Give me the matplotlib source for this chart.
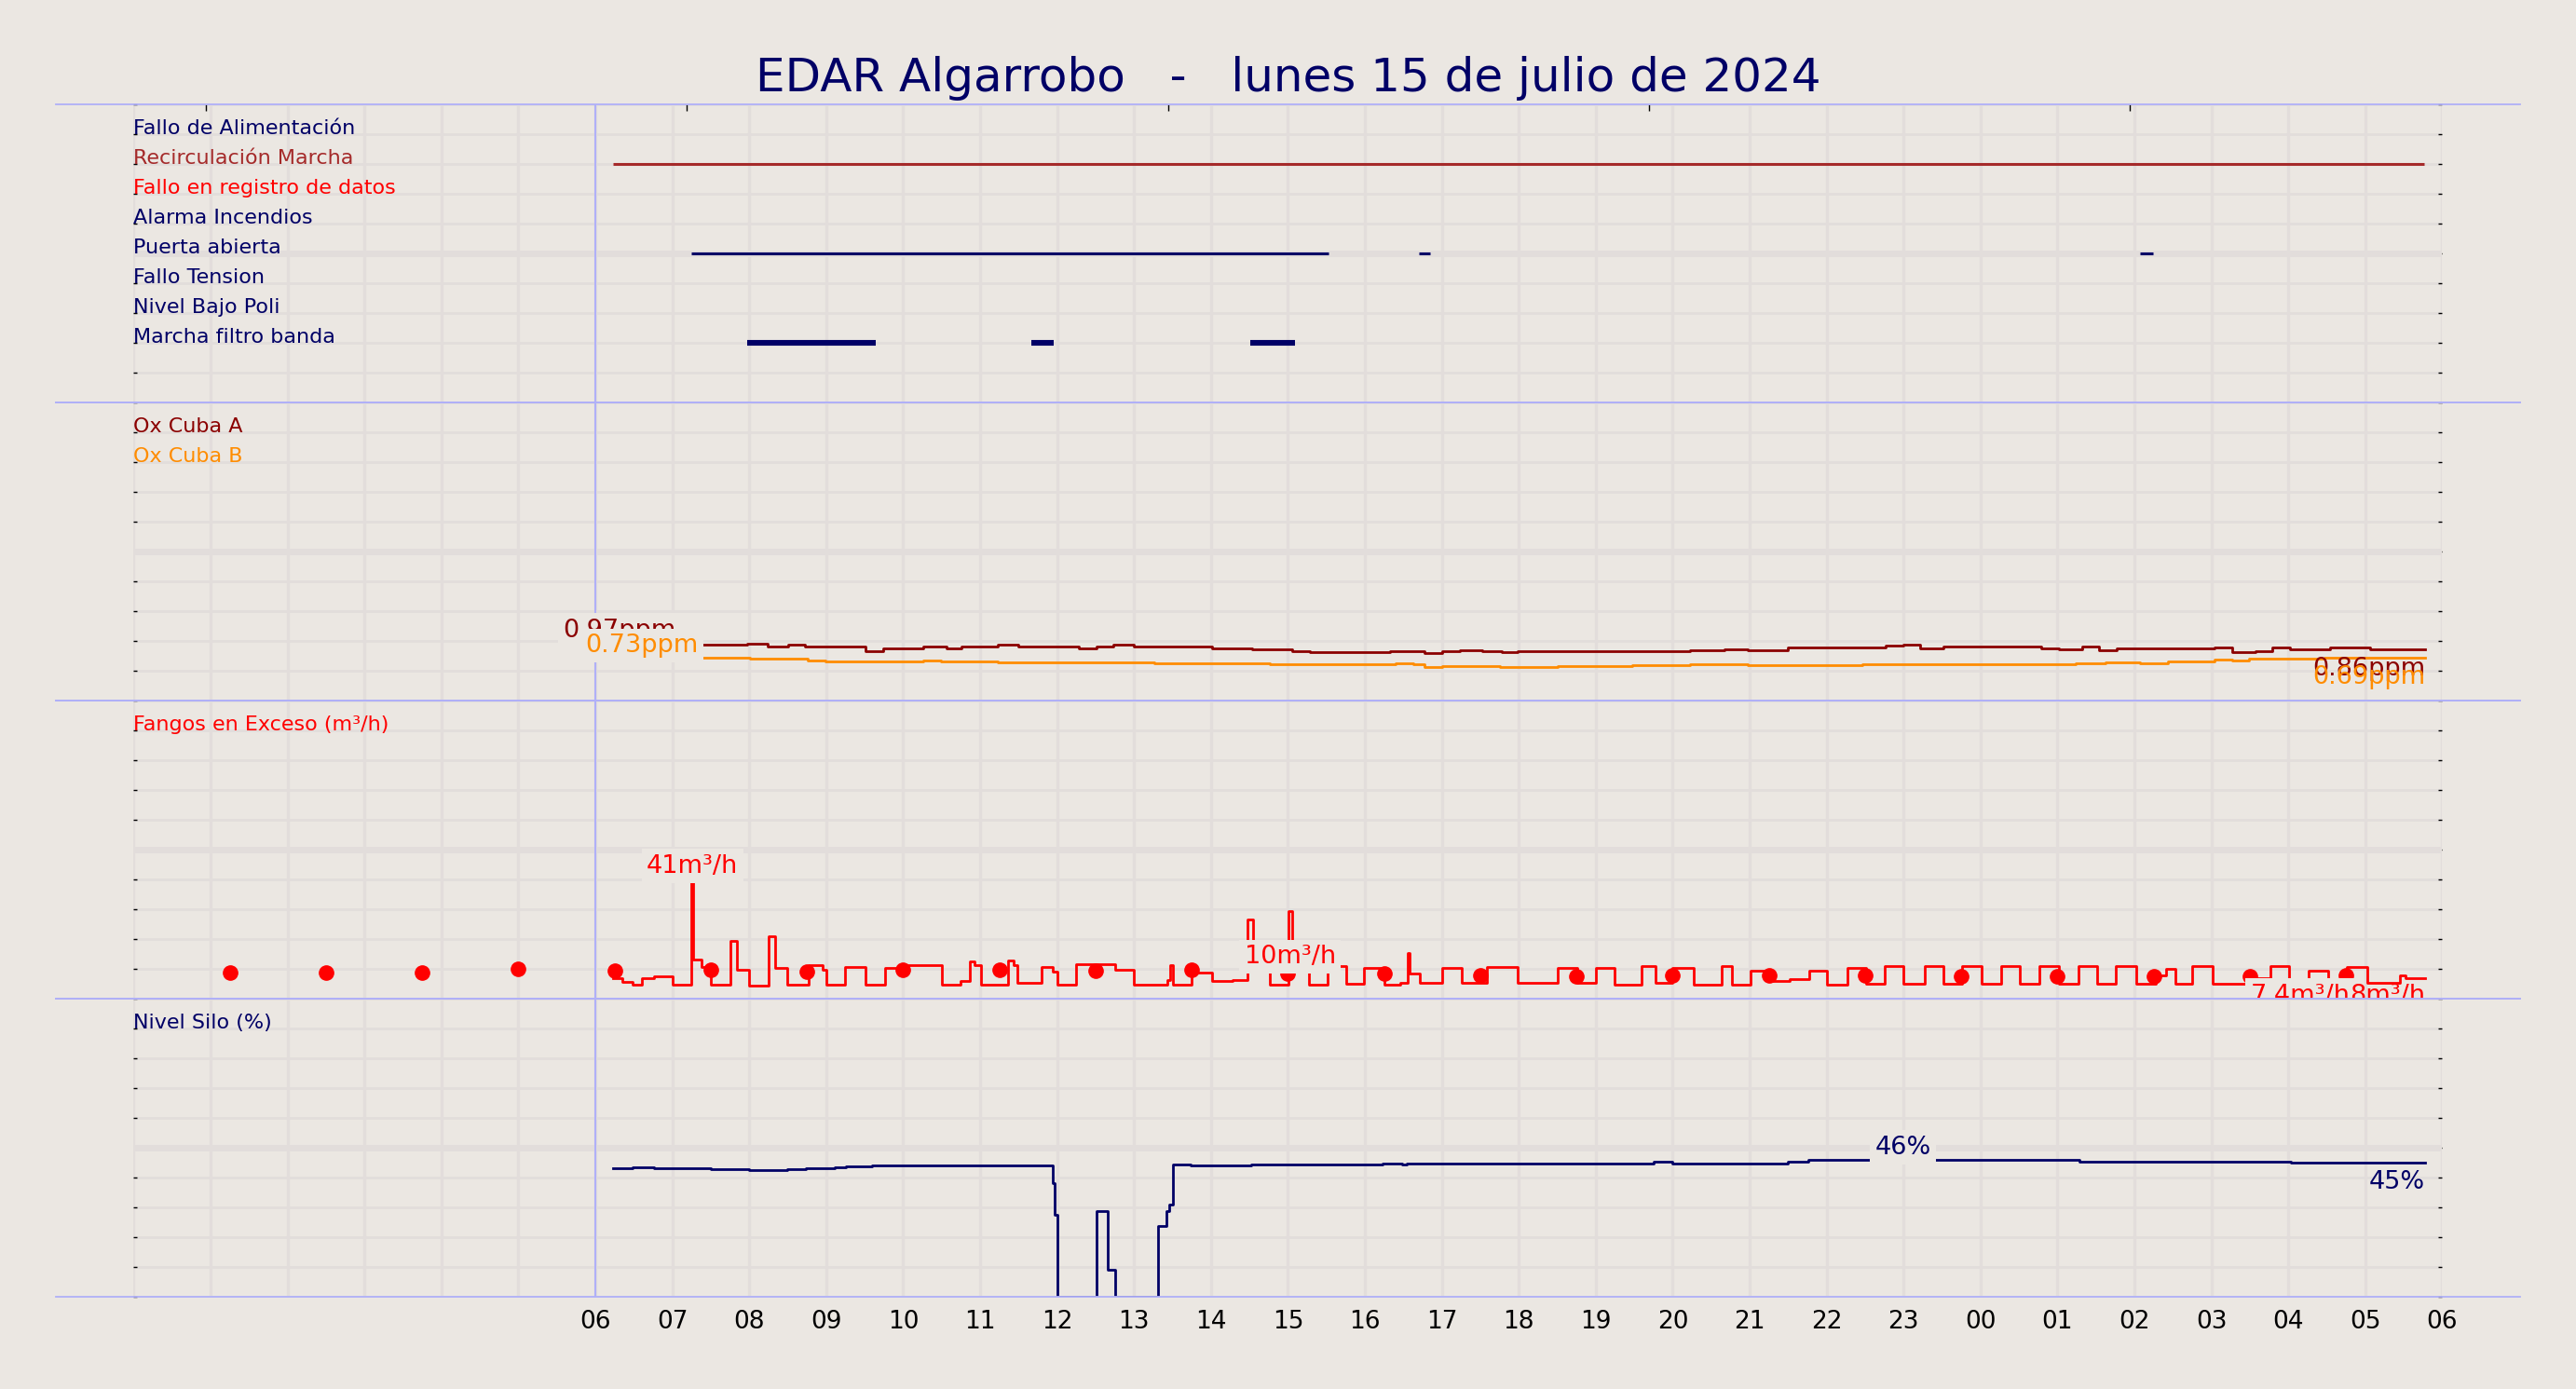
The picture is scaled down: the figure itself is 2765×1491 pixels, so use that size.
import matplotlib
matplotlib.use('Agg')
import matplotlib.pyplot as plt
from matplotlib.lines import Line2D
import numpy as np

W, H, DPI = 2765, 1491, 100
BG = '#ebe7e2'
GRID = '#e2dddb'
SEP = '#b0b0f8'
NAVY = '#000066'

title = 'EDAR Algarrobo   -   lunes 15 de julio de 2024'

# ---------------- x axis (hours since 00:00 of the day) ----------------
hour_ticks = list(range(6, 31))
hour_labels = ['06', '07', '08', '09', '10', '11', '12', '13', '14', '15', '16', '17',
               '18', '19', '20', '21', '22', '23', '00', '01', '02', '03', '04', '05', '06']
top_marks = [0.94, 7.19, 13.44, 19.69, 25.94]
day_start = 6
t_end = 29.78

# ---------------- panel 1 : digital signals ----------------
signal_names = ['Fallo de Alimentación', 'Recirculación Marcha', 'Fallo en registro de datos',
                'Alarma Incendios', 'Puerta abierta', 'Fallo Tension', 'Nivel Bajo Poli',
                'Marcha filtro banda']
signal_colors = [NAVY, '#a52a2a', 'red', NAVY, NAVY, NAVY, NAVY, NAVY]
signal_starts = [[], [6.23], [], [], [7.25, 16.70, 26.07], [], [], [7.97, 11.67, 14.51]]
signal_ends = [[], [29.76], [], [], [15.53, 16.85, 26.24], [], [], [9.64, 11.96, 15.09]]
signal_lw = [2.2, 2.2, 2.2, 2.2, 2.2, 2.2, 2.2, 4.4]

# ---------------- panel 2 : oxygen ----------------
oxA_t = [7.37, 7.76, 7.97, 8.24, 8.51, 8.73, 9.21, 9.51, 9.74, 10.01, 10.26, 10.56, 10.76,
         11.01, 11.23, 11.50, 11.80, 12.13, 12.28, 12.51, 12.73, 13.00, 14.01, 14.53, 15.06,
         15.28, 15.50, 15.80, 16.03, 16.33, 16.78, 17.00, 17.23, 17.53, 17.78, 17.98, 19.78,
         20.23, 20.67, 20.97, 21.50, 22.77, 23.00, 23.22, 23.52, 24.19, 24.57, 24.79, 25.02,
         25.32, 25.54, 25.77, 27.04, 27.27, 27.57, 27.79, 28.02, 28.54, 28.77, 29.06]
oxA_v = [0.93, 0.94, 0.95, 0.90, 0.93, 0.91, 0.90, 0.83, 0.87, 0.88, 0.90, 0.87, 0.90,
         0.90, 0.93, 0.90, 0.91, 0.90, 0.87, 0.90, 0.93, 0.91, 0.875, 0.855, 0.83,
         0.82, 0.81, 0.82, 0.81, 0.825, 0.79, 0.835, 0.85, 0.83, 0.815, 0.835, 0.835,
         0.845, 0.855, 0.85, 0.895, 0.925, 0.945, 0.88, 0.91, 0.90, 0.91, 0.875, 0.865,
         0.90, 0.845, 0.875, 0.89, 0.82, 0.835, 0.895, 0.865, 0.895, 0.885, 0.865]
oxB_t = [7.37, 8.01, 8.24, 8.76, 8.99, 9.59, 10.26, 10.49, 11.23, 13.26, 14.76, 16.40,
         16.63, 16.78, 17.00, 17.75, 18.50, 18.73, 19.48, 20.23, 20.97, 22.47, 24.72,
         25.24, 25.62, 26.07, 26.44, 27.04, 27.27, 27.49, 27.87, 28.47]
oxB_v = [0.72, 0.70, 0.71, 0.67, 0.66, 0.655, 0.67, 0.65, 0.645, 0.62, 0.605, 0.63,
         0.605, 0.555, 0.58, 0.57, 0.585, 0.58, 0.59, 0.605, 0.59, 0.605, 0.615,
         0.625, 0.645, 0.63, 0.655, 0.68, 0.67, 0.70, 0.71, 0.72]
oxA_first, oxA_last = '0.97ppm', '0.86ppm'
oxB_first, oxB_last = '0.73ppm', '0.69ppm'

# ---------------- panel 3 : excess sludge ----------------
fangos_t = [6.23, 6.35, 6.49, 6.61, 6.76, 7.00, 7.25, 7.27, 7.38, 7.50, 7.75, 7.84, 8.00,
            8.25, 8.34, 8.49, 8.77, 8.96, 9.00, 9.25, 9.51, 9.76, 10.00, 10.50, 10.75,
            10.87, 10.93, 11.01, 11.36, 11.43, 11.49, 11.80, 11.95, 12.01, 12.25, 12.75,
            13.00, 13.43, 13.47, 13.50, 13.75, 14.02, 14.28, 14.48, 14.55, 14.76, 15.01,
            15.06, 15.27, 15.51, 15.62, 15.76, 15.99, 16.26, 16.46, 16.56, 16.58, 16.72,
            17.01, 17.26, 17.58, 17.99, 18.50, 18.76, 19.00, 19.25, 19.59, 19.78, 20.00,
            20.27, 20.64, 20.77, 21.01, 21.26, 21.52, 21.78, 22.00, 22.27, 22.51, 22.75,
            23.00, 23.27, 23.52, 23.76, 24.02, 24.27, 24.51, 24.77, 25.02, 25.27, 25.52,
            25.76, 26.03, 26.28, 26.41, 26.53, 26.75, 27.02, 27.52, 27.77, 28.01, 28.26,
            28.52, 28.76, 29.03, 29.45, 29.52]
fangos_v = [7.0, 5.7, 4.6, 6.9, 7.6, 4.6, 40.4, 13.0, 10.5, 4.6, 19.5, 9.8, 4.3,
            21.0, 10.3, 4.6, 11.1, 9.8, 4.6, 10.6, 4.6, 10.3, 11.1, 4.6, 5.9,
            12.4, 11.1, 4.6, 12.7, 11.1, 5.3, 10.6, 9.0, 4.6, 11.6, 9.8,
            4.6, 6.4, 11.1, 4.6, 8.7, 5.8, 6.2, 26.7, 9.0, 4.8, 29.3,
            10.0, 4.8, 9.5, 11.0, 5.0, 10.2, 4.8, 5.2, 15.2, 8.4, 5.2,
            10.3, 5.2, 10.7, 5.2, 10.3, 5.2, 10.3, 4.6, 11.0, 5.3, 10.3,
            4.8, 11.0, 4.8, 9.4, 5.8, 6.6, 9.3, 4.6, 10.3, 5.1, 10.9,
            5.1, 10.9, 5.1, 10.9, 5.1, 10.9, 5.1, 10.9, 5.1, 10.9, 5.1,
            10.9, 5.1, 7.9, 10.0, 5.1, 10.9, 5.1, 7.0, 10.9, 6.5, 9.5,
            5.1, 10.7, 5.3, 7.7, 6.8]
dots_t = [1.25, 2.5, 3.75, 5.0, 6.25, 7.5, 8.75, 10.0, 11.25, 12.5, 13.75, 15.0, 16.25,
          17.5, 18.75, 20.0, 21.25, 22.5, 23.75, 25.0, 26.25, 27.5, 28.75]
dots_v = [8.8, 8.8, 8.9, 9.9, 9.5, 9.7, 9.2, 9.7, 9.7, 9.5, 9.7, 8.5, 8.4,
          7.9, 7.4, 7.9, 7.9, 7.9, 7.5, 7.6, 7.6, 7.5, 7.8]
fangos_max_label = '41m³/h'
fangos_mid_label, fangos_mid_t, fangos_mid_v = '10m³/h', 15.03, 10
fangos_last_label = '8m³/h'
fangos_avg_label = '7.4m³/h'

# ---------------- panel 4 : silo level ----------------
silo_t = [6.23, 6.49, 6.76, 7.50, 8.00, 8.49, 8.74, 9.11, 9.26, 9.60, 11.95, 11.97, 12.01,
          12.51, 12.66, 12.75, 13.31, 13.42, 13.46, 13.51, 13.74, 14.52, 16.23, 16.48, 16.54,
          19.75, 20.00, 21.50, 21.76, 22.54, 22.59, 23.40, 25.28, 28.03]
silo_v = [43.2, 43.5, 43.2, 42.8, 42.5, 42.8, 43.1, 43.4, 43.75, 44.1, 38.0, 27.6, 0.0,
          28.75, 9.0, 0.0, 23.75, 28.75, 30.8, 44.4, 44.1, 44.4, 44.8, 44.3, 44.7,
          45.4, 44.6, 45.2, 45.8, 45.9, 46.0, 45.8, 45.3, 45.0]
silo_max_label, silo_last_label = '46%', '45%'

panel_labels = [None, [('Ox Cuba A', '#8b0000'), ('Ox Cuba B', '#ff8c00')],
                [('Fangos en Exceso (m³/h)', 'red')], [('Nivel Silo (%)', NAVY)]]
panel_ymax = [10, 5, 100, 100]

# ---------------- figure ----------------
fig = plt.figure(figsize=(W / DPI, H / DPI), dpi=DPI, facecolor=BG)
left, right = 143.4 / W, 2621.4 / W
panel_top_px = [112, 432, 752, 1072]
panel_h_px = 320
axes = []
for top in panel_top_px:
    ax = fig.add_axes([left, 1 - (top + panel_h_px) / H, right - left, panel_h_px / H])
    axes.append(ax)

LBL_FS = 16
VAL_FS = 19.5
BOX = dict(boxstyle='square,pad=0.2', facecolor=BG, edgecolor='none')

for ax, ymax in zip(axes, panel_ymax):
    ax.set_facecolor(BG)
    ax.set_xlim(0, 30)
    ax.set_ylim(0, ymax)
    ax.set_yticks(np.linspace(0, ymax, 11))
    ax.set_xticks(hour_ticks)
    ax.set_xticks(np.arange(0, 31), minor=True)
    ax.set_axisbelow(True)
    ax.grid(which='both', axis='x', color=GRID, lw=2.4)
    ax.grid(which='major', axis='y', color=GRID, lw=2.0)
    ax.axhline(ymax / 2, color=GRID, lw=5, zorder=0.6)
    ax.tick_params(axis='y', which='both', direction='in', left=True, right=True,
                   labelleft=False, length=3, width=1, color='black')
    ax.tick_params(axis='x', which='both', length=0, labelbottom=False)
    for s in ax.spines.values():
        s.set_visible(False)
    ax.axvline(day_start, color=SEP, lw=1.5, zorder=1)

# separators
for ax in axes:
    pos = ax.get_position()
    for yy in (pos.y0, pos.y1):
        fig.add_artist(Line2D([60 / W, 2705 / W], [yy, yy], color=SEP, lw=1.3, zorder=3))

# title
fig.text(0.5, 1 - 98 / H, title, ha='center', va='baseline', fontsize=36, color=NAVY)

# ----- panel 1
ax = axes[0]
for i, name in enumerate(signal_names):
    y = 9 - i
    ax.text(0, y, name, ha='left', va='baseline', fontsize=LBL_FS, color=signal_colors[i], zorder=4)
    if signal_starts[i]:
        ax.hlines([y] * len(signal_starts[i]), signal_starts[i], signal_ends[i],
                  colors=signal_colors[i], lw=signal_lw[i], zorder=3)
axt = ax.twiny()
axt.set_xlim(0, 30)
axt.set_xticks(top_marks)
axt.tick_params(axis='x', direction='in', length=5, width=1, labeltop=False, top=True,
                bottom=False, color='black')
for s in axt.spines.values():
    s.set_visible(False)

# ----- panel labels for 2..4
for ax, labs, ymax in zip(axes[1:], panel_labels[1:], panel_ymax[1:]):
    for k, (txt, col) in enumerate(labs):
        ax.text(0, ymax * (0.9 - 0.1 * k), txt, ha='left', va='baseline', fontsize=LBL_FS,
                color=col, zorder=4)

# ----- panel 2
ax = axes[1]
for tt, vv, col in ((oxA_t, oxA_v, '#8b0000'), (oxB_t, oxB_v, '#ff8c00')):
    ax.step(tt + [t_end], vv + [vv[-1]], where='post', color=col, lw=2.0, zorder=3)
ax.annotate(oxA_first, (oxA_t[0], oxA_v[0]), xytext=(-19, 2), textcoords='offset points',
            ha='right', va='bottom', fontsize=VAL_FS, color='#8b0000', bbox=BOX, zorder=5)
ax.annotate(oxB_first, (oxB_t[0], oxB_v[0]), xytext=(-2, 0), textcoords='offset points',
            ha='right', va='bottom', fontsize=VAL_FS, color='#ff8c00', bbox=BOX, zorder=5)
ax.annotate(oxA_last, (t_end, oxA_v[-1]), xytext=(0, -6), textcoords='offset points',
            ha='right', va='top', fontsize=VAL_FS, color='#8b0000', zorder=5)
ax.annotate(oxB_last, (t_end, oxB_v[-1]), xytext=(0, -6), textcoords='offset points',
            ha='right', va='top', fontsize=VAL_FS, color='#ff8c00', zorder=5)

# ----- panel 3
ax = axes[2]
ax.step(fangos_t + [t_end], fangos_v + [fangos_v[-1]], where='post', color='red', lw=2.0, zorder=3)
ax.plot(dots_t, dots_v, 'o', color='red', ms=11, zorder=3)
imax = int(np.argmax(fangos_v))
ax.annotate(fangos_max_label, ((fangos_t[imax] + fangos_t[imax + 1]) / 2, fangos_v[imax]),
            xytext=(0, 0), textcoords='offset points', ha='center', va='bottom',
            fontsize=VAL_FS, color='red', bbox=BOX, zorder=5)
ax.annotate(fangos_mid_label, (fangos_mid_t, fangos_mid_v), xytext=(0, 0),
            textcoords='offset points', ha='center', va='bottom', fontsize=VAL_FS,
            color='red', bbox=BOX, zorder=5)
last = ax.annotate(fangos_last_label, (t_end, fangos_v[-1]), xytext=(0, -4),
                   textcoords='offset points', ha='right', va='top', fontsize=VAL_FS,
                   color='red', zorder=6)
ax.annotate(fangos_avg_label, (0, 0), xycoords=last, ha='right', va='bottom',
            fontsize=VAL_FS, color='red', bbox=BOX, zorder=5)

# ----- panel 4
ax = axes[3]
ax.step(silo_t + [t_end], silo_v + [silo_v[-1]], where='post', color=NAVY, lw=2.0, zorder=3)
smax = int(np.argmax(silo_v))
ax.annotate(silo_max_label, ((silo_t[smax] + silo_t[smax + 1]) / 2, silo_v[smax]),
            xytext=(0, 0), textcoords='offset points', ha='center', va='bottom',
            fontsize=VAL_FS, color=NAVY, bbox=BOX, zorder=5)
ax.annotate(silo_last_label, (t_end, silo_v[-1]), xytext=(0, -6), textcoords='offset points',
            ha='right', va='top', fontsize=VAL_FS, color=NAVY, zorder=5)
ax.set_xticks(hour_ticks, hour_labels)
ax.tick_params(axis='x', which='major', labelbottom=True, labelsize=19, pad=10,
               labelcolor='black')

fig.savefig('out.png', dpi=DPI, facecolor=BG)
